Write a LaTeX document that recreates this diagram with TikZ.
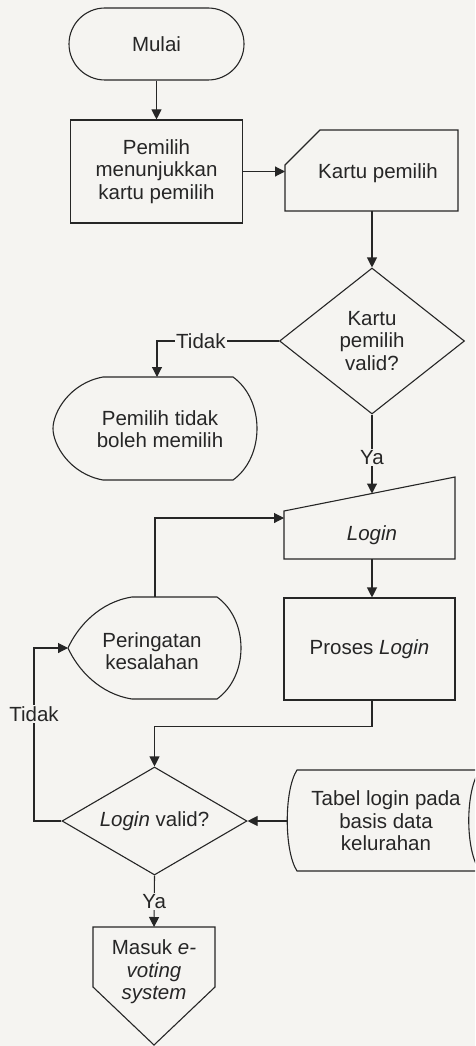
\documentclass[tikz,border=0pt]{standalone}
\usepackage{fontspec}
\setmainfont{Liberation Sans}
\usetikzlibrary{shapes.geometric,shapes.misc,arrows.meta}
\definecolor{ink}{HTML}{262626}
\definecolor{paper}{HTML}{F5F4F1}
\begin{document}
\begin{tikzpicture}[x=1pt,y=-1pt,line width=1.1pt,draw=ink,text=ink,
  font=\fontsize{20.5}{22.5}\selectfont,
  >={Triangle[length=10pt,width=10pt]},
  shp/.style={draw=ink,line width=1.1pt},
  txt/.style={align=center,inner sep=0pt},
  lbl/.style={fill=paper,inner sep=1.5pt},
  arr/.style={->,draw=ink}]
\useasboundingbox (0,0) rectangle (475,1046);
\fill[paper] (0,0) rectangle (475,1046);
\clip (0,0) rectangle (475,1046);

% terminal and process
\node[shp,rounded rectangle,minimum width=175pt,minimum height=72pt,inner sep=0pt] (mulai) at (156.5,44) {Mulai};
\node[shp,rectangle,minimum width=172pt,minimum height=103pt,txt] (p1) at (156.5,171.5) {Pemilih\\menunjukkan\\kartu pemilih};

% card
\draw[shp] (320,130) -- (458,130) -- (458,211) -- (285,211) -- (285,165) -- cycle;
\node[txt] (tkartu) at (378,173) {Kartu pemilih};
\coordinate (kartuL) at (285,171.5);
\coordinate (kartuB) at (372,211);

% decision 1
\node[shp,diamond,aspect=1.3,inner sep=0pt,minimum width=185pt,minimum height=146pt,align=center] (d1) at (372,341) {Kartu\\pemilih\\valid?};

% display 1
\draw[shp] (103,377) -- (233,377) .. controls (265,400) and (265,457) .. (233,480)
  -- (103,480) .. controls (70,474) and (53,445) .. (53,428.5)
  .. controls (53,412) and (70,383) .. (103,377) -- cycle;
\node[txt] (tdsp) at (160,429) {Pemilih tidak\\boleh memilih};
\coordinate (dspT) at (157,377);

% manual input
\draw[shp] (284,511) -- (455,477) -- (455,559) -- (284,559) -- cycle;
\node[txt] (tlogin) at (372,535) {\itshape Login};
\coordinate (loginT) at (372,493.5);
\coordinate (loginL) at (284,518);
\coordinate (loginB) at (372,559);

% display 2
\draw[shp] (132,597) -- (217,597) .. controls (249,620) and (249,676) .. (217,699)
  -- (132,699) .. controls (100,694) and (78,670) .. (68,648)
  .. controls (78,626) and (100,602) .. (132,597) -- cycle;
\node[txt] (tper) at (152,651) {Peringatan\\kesalahan};
\coordinate (perT) at (155,597);
\coordinate (perL) at (68,648);

% process login
\node[shp,rectangle,minimum width=171pt,minimum height=102pt,txt] (pros) at (369.5,649) {Proses \textit{Login}};

% decision 2
\node[shp,diamond,aspect=1.7,inner sep=0pt,minimum width=185pt,minimum height=108pt,align=center] (d2) at (154.5,821) {\textit{Login} valid?};

% stored data
\draw[shp] (297,770) -- (480,770) .. controls (465,790) and (465,851) .. (480,871)
  -- (297,871) .. controls (284,851) and (284,790) .. (297,770) -- cycle;
\node[txt] (ttabel) at (386,821) {Tabel login pada\\basis data\\kelurahan};
\coordinate (tabelL) at (287,821);

% off-page connector
\draw[shp] (93,927) -- (215,927) -- (215,987) -- (154,1045) -- (93,987) -- cycle;
\node[txt] (toff) at (154,972) {Masuk \textit{e-}\\\textit{voting}\\\textit{system}};
\coordinate (offT) at (154,927);

% connectors
\draw[arr] (mulai.south) -- (p1.north);
\draw[arr] (p1.east) -- (kartuL);
\draw[arr] (kartuB) -- (d1.north);
\draw[arr] (d1.west) -- node[lbl,pos=0.64] {Tidak} (dspT |- d1.west) -- (dspT);
\draw[arr] (d1.south) -- node[lbl,pos=0.54] {Ya} (loginT);
\draw[arr] (perT) |- (loginL);
\draw[arr] (loginB) -- (loginB |- pros.north);
\draw[arr] (pros.south -| loginB) -- ++(0,26) -| (d2.north);
\coordinate (c1) at (34,821);
\coordinate (c2) at (34,648);
\draw[arr] (d2.west) -- (c1) -- node[lbl,pos=0.62] {Tidak} (c2) -- (perL);
\draw[arr] (tabelL) -- (d2.east);
\draw[arr] (d2.south) -- node[lbl,pos=0.5] {Ya} (offT);
\end{tikzpicture}
\end{document}
